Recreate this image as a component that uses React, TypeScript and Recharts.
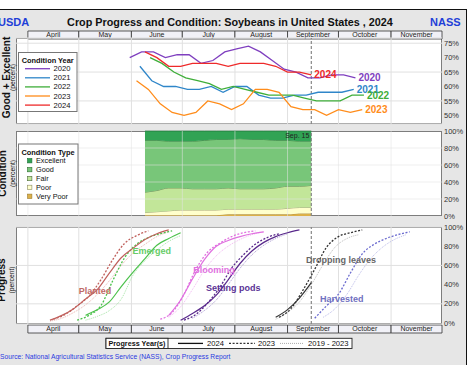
import React from 'react';
import {
  ComposedChart, LineChart, AreaChart, Line, Area, Scatter, XAxis, YAxis,
  CartesianGrid, ReferenceLine, ReferenceArea, ReferenceDot,
} from 'recharts';

const FONT = '"Liberation Sans", Arial, Helvetica, sans-serif';

// day of year on a 2024 calendar (Jan 1 = 0)
const MONTH_OFFSETS = [0, 31, 60, 91, 121, 152, 182, 213, 244, 274, 305, 335];
const doy = (md: string) => {
  const [m, d] = md.split('/').map(Number);
  return MONTH_OFFSETS[m - 1] + d - 1;
};

// ---------------- axis / calendar ----------------
const AXIS_START = '3/25';
const AXIS_END = '12/1';
const CURRENT_WEEK = '9/15';
const monthNames = ['April', 'May', 'June', 'July', 'August', 'September', 'October', 'November'];
const monthStartDates = ['4/1', '5/1', '6/1', '7/1', '8/1', '9/1', '10/1', '11/1'];
const monthEndDates = ['5/1', '6/1', '7/1', '8/1', '9/1', '10/1', '11/1', '12/1'];
const geTicks = [50, 55, 60, 65, 70, 75];
const pctTicks = [0, 20, 40, 60, 80, 100];

// ---------------- Good + Excellent by condition year ----------------
const ge2020Weeks = ['5/31', '6/7', '6/14', '6/21', '6/28', '7/5', '7/12', '7/19', '7/26', '8/2', '8/9', '8/16', '8/23', '8/30', '9/6', '9/13', '9/20', '9/27', '10/4', '10/11'];
const ge2020 = [70, 72, 72, 70, 71, 71, 68, 69, 72, 73, 74, 72, 69, 66, 65, 63, 63, 64, 64, 63];
const ge2021Weeks = ['6/6', '6/13', '6/20', '6/27', '7/4', '7/11', '7/18', '7/25', '8/1', '8/8', '8/15', '8/22', '8/29', '9/5', '9/12', '9/19', '9/26', '10/3', '10/10'];
const ge2021 = [67, 62, 60, 60, 59, 59, 60, 58, 60, 60, 57, 56, 56, 57, 57, 58, 58, 58, 59];
const ge2022Weeks = ['6/12', '6/19', '6/26', '7/3', '7/10', '7/17', '7/24', '7/31', '8/7', '8/14', '8/21', '8/28', '9/4', '9/11', '9/18', '9/25', '10/2', '10/9', '10/16'];
const ge2022 = [70, 68, 65, 63, 62, 61, 59, 60, 59, 58, 57, 57, 57, 56, 55, 55, 55, 57, 57];
const ge2023Weeks = ['6/4', '6/11', '6/18', '6/25', '7/2', '7/9', '7/16', '7/23', '7/30', '8/6', '8/13', '8/20', '8/27', '9/3', '9/10', '9/17', '9/24', '10/1', '10/8', '10/15'];
const ge2023 = [62, 59, 54, 51, 50, 51, 55, 54, 52, 54, 59, 59, 58, 53, 52, 52, 50, 52, 51, 52];
const ge2024Weeks = ['6/9', '6/16', '6/23', '6/30', '7/7', '7/14', '7/21', '7/28', '8/4', '8/11', '8/18', '8/25', '9/1', '9/8', '9/15'];
const ge2024 = [72, 70, 67, 67, 68, 68, 68, 67, 68, 68, 68, 67, 65, 65, 64];

// ---------------- 2024 condition breakdown ----------------
const condWeeks = ge2024Weeks;
const condVeryPoor = [1, 1, 1, 1, 1, 1, 1, 2, 2, 2, 2, 2, 2, 3, 3];
const condPoor = [3, 4, 5, 6, 6, 6, 6, 6, 6, 6, 6, 6, 7, 7, 7];
const condFair = [24, 25, 27, 26, 25, 25, 25, 25, 24, 24, 24, 25, 26, 25, 26];
const condGood = [61, 59, 55, 55, 56, 57, 58, 57, 59, 58, 58, 56, 54, 53, 52];
const condExcellent = [11, 11, 12, 12, 12, 11, 10, 10, 9, 10, 10, 11, 11, 12, 12];

// ---------------- progress ----------------
const planted24Weeks = ['4/14', '4/21', '4/28', '5/5', '5/12', '5/19', '5/26', '6/2', '6/9', '6/16', '6/23'];
const planted24 = [3, 8, 15, 25, 35, 52, 68, 78, 87, 93, 97];
const planted23Weeks = ['4/16', '4/23', '4/30', '5/7', '5/14', '5/21', '5/28', '6/4', '6/11'];
const planted23 = [4, 9, 18, 28, 45, 66, 83, 91, 96];
const plantedAvgWeeks = ['4/14', '4/21', '4/28', '5/5', '5/12', '5/19', '5/26', '6/2', '6/9', '6/16', '6/23'];
const plantedAvg = [2, 5, 11, 19, 30, 44, 60, 73, 82, 90, 95];

const emerged24Weeks = ['5/5', '5/12', '5/19', '5/26', '6/2', '6/9', '6/16', '6/23', '6/30'];
const emerged24 = [8, 14, 22, 38, 53, 67, 81, 88, 94];
const emerged23Weeks = ['4/30', '5/7', '5/14', '5/21', '5/28', '6/4', '6/11', '6/18', '6/25'];
const emerged23 = [3, 8, 18, 44, 68, 82, 89, 93, 96];
const emergedAvgWeeks = ['5/5', '5/12', '5/19', '5/26', '6/2', '6/9', '6/16', '6/23', '6/30'];
const emergedAvg = [3, 7, 13, 25, 50, 65, 76, 85, 91];

const bloom24Weeks = ['6/23', '6/30', '7/7', '7/14', '7/21', '7/28', '8/4', '8/11', '8/18'];
const bloom24 = [8, 24, 46, 66, 80, 86, 90, 93, 95];
const bloom23Weeks = ['6/18', '6/25', '7/2', '7/9', '7/16', '7/23', '7/30', '8/6', '8/13'];
const bloom23 = [4, 11, 30, 56, 74, 83, 90, 94, 96];
const bloomAvgWeeks = ['6/23', '6/30', '7/7', '7/14', '7/21', '7/28', '8/4', '8/11', '8/18'];
const bloomAvg = [6, 17, 35, 55, 70, 80, 87, 92, 95];

const pods24Weeks = ['6/30', '7/7', '7/14', '7/21', '7/28', '8/4', '8/11', '8/18', '8/25', '9/1', '9/8'];
const pods24 = [3, 10, 18, 29, 45, 62, 75, 84, 90, 94, 97];
const pods23Weeks = ['7/2', '7/9', '7/16', '7/23', '7/30', '8/6', '8/13', '8/20', '8/27'];
const pods23 = [3, 9, 21, 37, 57, 71, 82, 89, 93];
const podsAvgWeeks = ['7/7', '7/14', '7/21', '7/28', '8/4', '8/11', '8/18', '8/25', '9/1'];
const podsAvg = [5, 13, 24, 40, 57, 71, 81, 88, 93];

const leaves24Weeks = ['8/25', '9/1', '9/8', '9/15'];
const leaves24 = [6, 14, 26, 42];
const leaves23Weeks = ['8/27', '9/3', '9/10', '9/17', '9/24', '10/1', '10/8', '10/15'];
const leaves23 = [6, 15, 34, 56, 79, 90, 94, 97];
const leavesAvgWeeks = ['8/25', '9/1', '9/8', '9/15', '9/22', '9/29', '10/6', '10/13'];
const leavesAvg = [4, 11, 22, 40, 61, 79, 88, 92];

const harvest23Weeks = ['9/17', '9/24', '10/1', '10/8', '10/15', '10/22', '10/29', '11/5', '11/12'];
const harvest23 = [5, 18, 30, 52, 72, 82, 88, 92, 95];
const harvestAvgWeeks = ['9/22', '9/29', '10/6', '10/13', '10/20', '10/27', '11/3', '11/10'];
const harvestAvg = [6, 15, 30, 50, 67, 79, 87, 92];

// ---------------- derived tables ----------------
const pts = (weeks: string[], vals: number[]) => weeks.map((w, i) => ({ d: doy(w), v: vals[i] }));
const X_DOMAIN: [number, number] = [doy(AXIS_START), doy(AXIS_END)];
const SEP15 = doy(CURRENT_WEEK);
const monthLines = monthStartDates.map(doy);
const monthBands = monthNames.map((name, i) => ({
  name,
  d1: Math.max(doy(monthStartDates[i]), X_DOMAIN[0]),
  d2: Math.min(doy(monthEndDates[i]), X_DOMAIN[1]),
  row: 0.5,
}));

const condYears = [
  { year: '2020', color: '#7f3fbf', data: pts(ge2020Weeks, ge2020) },
  { year: '2021', color: '#2f86c9', data: pts(ge2021Weeks, ge2021) },
  { year: '2022', color: '#3fae3a', data: pts(ge2022Weeks, ge2022) },
  { year: '2023', color: '#ff8c1a', data: pts(ge2023Weeks, ge2023) },
  { year: '2024', color: '#ee2a2a', data: pts(ge2024Weeks, ge2024) },
];

const condRows = condWeeks.map((w, i) => ({
  d: doy(w), vp: condVeryPoor[i], p: condPoor[i], f: condFair[i], g: condGood[i], e: condExcellent[i],
}));
const condTypes = [
  { key: 'e', name: 'Excellent', fill: '#31a354', stroke: '#1f6e36' },
  { key: 'g', name: 'Good', fill: '#78c679', stroke: '#2f6e31' },
  { key: 'f', name: 'Fair', fill: '#c2e699', stroke: '#4d6b3a' },
  { key: 'p', name: 'Poor', fill: '#ffffcc', stroke: '#8a8a60' },
  { key: 'vp', name: 'Very Poor', fill: '#dcb048', stroke: '#9a7a30' },
];

const stages = [
  { name: 'Planted', color: '#c0605c', avg: '#eab3b0', label: '#c06a66', s24: pts(planted24Weeks, planted24), s23: pts(planted23Weeks, planted23), sAvg: pts(plantedAvgWeeks, plantedAvg) },
  { name: 'Emerged', color: '#4cc24c', avg: '#a9e6a9', label: '#66cc66', s24: pts(emerged24Weeks, emerged24), s23: pts(emerged23Weeks, emerged23), sAvg: pts(emergedAvgWeeks, emergedAvg) },
  { name: 'Blooming', color: '#e070e0', avg: '#f3b8f3', label: '#e070e0', s24: pts(bloom24Weeks, bloom24), s23: pts(bloom23Weeks, bloom23), sAvg: pts(bloomAvgWeeks, bloomAvg) },
  { name: 'Setting pods', color: '#5a2a8c', avg: '#aa9ad0', label: '#5b3396', s24: pts(pods24Weeks, pods24), s23: pts(pods23Weeks, pods23), sAvg: pts(podsAvgWeeks, podsAvg) },
  { name: 'Dropping leaves', color: '#333333', avg: '#bdbdbd', label: '#666666', s24: pts(leaves24Weeks, leaves24), s23: pts(leaves23Weeks, leaves23), sAvg: pts(leavesAvgWeeks, leavesAvg) },
  { name: 'Harvested', color: '#6b6bcf', avg: '#bcbcea', label: '#7070c0', s24: [] as { d: number; v: number }[], s23: pts(harvest23Weeks, harvest23), sAvg: pts(harvestAvgWeeks, harvestAvg) },
];

// label anchors (layout, in data units: day of year, percent)
const STAGE_LABEL_AT: Record<string, [number, number]> = {
  'Planted': [130.5, 34],
  'Emerged': [164, 75],
  'Blooming': [200.6, 55],
  'Setting pods': [212, 36.5],
  'Dropping leaves': [275.5, 65.5],
  'Harvested': [276, 25],
};

// ---------------- layout ----------------
const W = 474;
const PL = 16;
const AW = 32;
const GRID = '#e0e0e0';

const endLabel = (color: string, text: string, n: number) => (p: any) =>
  p.index === n - 1 ? (
    <text x={p.x + 3} y={p.y} dy={3.5} fill={color} fontSize={10} fontWeight="bold" fontFamily={FONT}>{text}</text>
  ) : <g />;

function MonthBand({ top }: { top: number }) {
  return (
    <div style={{ position: 'absolute', left: 0, top: top - 2 }}>
      <ComposedChart width={W} height={12} margin={{ top: 2, right: 0, bottom: 2, left: PL }} data={monthBands}>
        <XAxis type="number" dataKey="d1" domain={X_DOMAIN} hide allowDataOverflow />
        <YAxis type="number" dataKey="row" domain={[0, 1]} orientation="right" width={AW} tick={false} axisLine={false} tickLine={false} />
        {monthBands.map((m) => (
          <ReferenceArea key={m.name} x1={m.d1} x2={m.d2} y1={0} y2={1} fill="#f1f1f7" fillOpacity={1}
            stroke="#333" strokeWidth={0.8} ifOverflow="visible"
            label={{ value: m.name, position: 'center', fontSize: 7, fill: '#222', fontFamily: FONT, dy: -0.5 }} />
        ))}
        <Scatter dataKey="row" fill="none" shape={() => <g />} isAnimationActive={false} />
      </ComposedChart>
    </div>
  );
}

const plotBox = (top: number, height: number) => (
  <div style={{ position: 'absolute', left: PL, top, width: W - PL - AW, height, background: '#fff', border: '1px solid #7d7d7d', boxSizing: 'border-box' }} />
);

const yTick = { fontSize: 7.5, fill: '#333', fontFamily: FONT };

export default function App() {
  return (
    <div style={{ position: 'absolute', left: 0, top: 0, width: W, height: 365, background: '#fff', fontFamily: FONT, overflow: 'hidden' }}>
      <div style={{ position: 'absolute', left: 0, top: 9, width: 467, height: 360, background: '#e6e6e6', borderTop: '1.5px solid #111', borderRight: '1.5px solid #111', boxSizing: 'border-box' }} />

      {plotBox(38, 86)}
      {plotBox(131, 85)}
      {plotBox(227, 97)}

      <MonthBand top={31} />
      <MonthBand top={325} />

      {/* Good + Excellent */}
      <div style={{ position: 'absolute', left: 0, top: 32 }}>
        <LineChart width={W} height={98} margin={{ top: 6, right: 0, bottom: 6, left: PL }}>
          <XAxis type="number" dataKey="d" domain={X_DOMAIN} hide allowDataOverflow />
          <YAxis type="number" orientation="right" domain={[47, 76.8]} ticks={geTicks} width={AW}
            tickFormatter={(v) => `${v}%`} axisLine={false} tickLine={false} tickSize={0} tickMargin={2} tick={yTick} allowDataOverflow />
          <CartesianGrid vertical={false} stroke={GRID} />
          {monthLines.map((d) => <ReferenceLine key={d} x={d} stroke={GRID} />)}
          <ReferenceLine x={SEP15} stroke="#888" strokeDasharray="3 2" strokeWidth={1.2} />
          {condYears.map((s) => (
            <Line key={s.year} data={s.data} dataKey="v" type="linear" stroke={s.color} strokeWidth={1.3}
              dot={false} isAnimationActive={false} label={endLabel(s.color, s.year, s.data.length)} />
          ))}
        </LineChart>
      </div>

      {/* Condition */}
      <div style={{ position: 'absolute', left: 0, top: 125 }}>
        <AreaChart width={W} height={97} data={condRows} margin={{ top: 6, right: 0, bottom: 6, left: PL }}>
          <XAxis type="number" dataKey="d" domain={X_DOMAIN} hide allowDataOverflow />
          <YAxis type="number" orientation="right" domain={[0, 100]} ticks={pctTicks} width={AW}
            tickFormatter={(v) => `${v}%`} axisLine={false} tickLine={false} tickSize={0} tickMargin={2} tick={yTick} />
          {[...condTypes].reverse().map((c) => (
            <Area key={c.key} dataKey={c.key} stackId="1" type="monotone" fill={c.fill} fillOpacity={1}
              stroke={c.stroke} strokeWidth={0.7} isAnimationActive={false} />
          ))}
          {pctTicks.slice(1, -1).map((t) => <ReferenceLine key={t} y={t} stroke="#e4e4e4" strokeOpacity={0.55} />)}
          {monthLines.map((d) => <ReferenceLine key={d} x={d} stroke="#e4e4e4" strokeOpacity={0.55} />)}
          <ReferenceLine x={SEP15} stroke="#888" strokeDasharray="3 2" strokeWidth={1.2}
            label={{ value: 'Sep. 15', position: 'insideTopRight', fontSize: 7, fill: '#222', offset: 2, fontFamily: FONT }} />
        </AreaChart>
      </div>

      {/* Progress */}
      <div style={{ position: 'absolute', left: 0, top: 221 }}>
        <LineChart width={W} height={109} margin={{ top: 6, right: 0, bottom: 6, left: PL }}>
          <XAxis type="number" dataKey="d" domain={X_DOMAIN} hide allowDataOverflow />
          <YAxis type="number" orientation="right" domain={[-1, 100]} ticks={pctTicks} width={AW}
            tickFormatter={(v) => `${v}%`} axisLine={false} tickLine={false} tickSize={0} tickMargin={2} tick={yTick} allowDataOverflow />
          <CartesianGrid vertical={false} stroke={GRID} />
          {monthLines.map((d) => <ReferenceLine key={d} x={d} stroke={GRID} />)}
          <ReferenceLine x={SEP15} stroke="#888" strokeDasharray="3 2" strokeWidth={1.2} />
          {stages.map((s) => (
            <Line key={s.name + 'avg'} data={s.sAvg} dataKey="v" type="monotone" stroke={s.avg} strokeWidth={1}
              strokeDasharray="1 1" dot={false} isAnimationActive={false} />
          ))}
          {stages.map((s) => (
            <Line key={s.name + '23'} data={s.s23} dataKey="v" type="monotone" stroke={s.color} strokeWidth={1.3}
              strokeDasharray="2 1.6" dot={false} isAnimationActive={false} />
          ))}
          {stages.filter((s) => s.s24.length > 0).map((s) => (
            <Line key={s.name + '24'} data={s.s24} dataKey="v" type="monotone" stroke={s.color} strokeWidth={1.2}
              dot={false} isAnimationActive={false} />
          ))}
          {stages.map((s) => (
            <ReferenceDot key={s.name + 'lbl'} x={STAGE_LABEL_AT[s.name][0]} y={STAGE_LABEL_AT[s.name][1]} r={0}
              fill="none" stroke="none"
              label={{ value: s.name, position: 'center', fill: s.label, fontSize: 9, fontWeight: 'bold', fontFamily: FONT }} />
          ))}
        </LineChart>
      </div>

      {/* static texts */}
      <svg width={W} height={365} style={{ position: 'absolute', left: 0, top: 0, pointerEvents: 'none' }} fontFamily={FONT}>
        <text x={-2} y={21.5} dominantBaseline="central" fill="#1f3fd8" fontSize={11} fontWeight="bold">USDA</text>
        <text x={230} y={21.5} dominantBaseline="central" textAnchor="middle" fill="#111" fontSize={10.8} fontWeight="bold">
          Crop Progress and Condition: Soybeans in United States , 2024
        </text>
        <text x={430} y={21.5} dominantBaseline="central" fill="#1f3fd8" fontSize={11} fontWeight="bold">NASS</text>

        <text transform="translate(9.5,77.5) rotate(-90)" textAnchor="middle" fontSize={10} fontWeight="bold" fill="#111">Good + Excellent</text>
        <text transform="translate(14.8,77.5) rotate(-90)" textAnchor="middle" fontSize={6.8} fill="#111">(percent)</text>
        <text transform="translate(5.5,173.5) rotate(-90)" textAnchor="middle" fontSize={10} fontWeight="bold" fill="#111">Condition</text>
        <text transform="translate(14.5,173.5) rotate(-90)" textAnchor="middle" fontSize={6.8} fill="#111">(percent)</text>
        <text transform="translate(5,280) rotate(-90)" textAnchor="middle" fontSize={10} fontWeight="bold" fill="#111">Progress</text>
        <text transform="translate(13.8,280) rotate(-90)" textAnchor="middle" fontSize={6.8} fill="#111">(percent)</text>

        {/* Condition Year legend */}
        <rect x={18.5} y={52.5} width={58.5} height={59} fill="#fff" stroke="#777" />
        <text x={47.7} y={60} textAnchor="middle" dominantBaseline="central" fontSize={7.4} fontWeight="bold" fill="#111">Condition Year</text>
        {condYears.map((s, i) => (
          <g key={s.year}>
            <line x1={25} x2={50} y1={68.7 + i * 9.1} y2={68.7 + i * 9.1} stroke={s.color} strokeWidth={1.3} />
            <text x={53.5} y={68.7 + i * 9.1} dominantBaseline="central" fontSize={7.6} fill="#111">{s.year}</text>
          </g>
        ))}

        {/* Condition Type legend */}
        <rect x={18.5} y={144} width={59.5} height={60} fill="#fff" stroke="#777" />
        <text x={48} y={152.4} textAnchor="middle" dominantBaseline="central" fontSize={7.4} fontWeight="bold" fill="#111">Condition Type</text>
        {condTypes.map((c, i) => (
          <g key={c.key}>
            <rect x={27.5} y={158.5 + i * 8.9} width={4.4} height={4.4} fill={c.fill} stroke={c.stroke} strokeWidth={0.6} />
            <text x={36} y={160.7 + i * 8.9} dominantBaseline="central" fontSize={7.3} fill="#111">{c.name}</text>
          </g>
        ))}

        {/* Progress years legend */}
        <rect x={106} y={338.3} width={246} height={10.2} fill="#fff" stroke="#222" strokeWidth={0.9} />
        <rect x={106} y={338.3} width={62} height={10.2} fill="#fff" stroke="#222" strokeWidth={0.9} />
        <text x={137} y={343.4} textAnchor="middle" dominantBaseline="central" fontSize={7.2} fontWeight="bold" fill="#111">Progress Year(s)</text>
        <line x1={178} x2={203} y1={343.4} y2={343.4} stroke="#111" strokeWidth={1.3} />
        <text x={207} y={343.4} dominantBaseline="central" fontSize={7.6} fill="#111">2024</text>
        <line x1={229} x2={255} y1={343.4} y2={343.4} stroke="#333" strokeWidth={1.3} strokeDasharray="2 1.6" />
        <text x={258} y={343.4} dominantBaseline="central" fontSize={7.6} fill="#111">2023</text>
        <line x1={280} x2={303} y1={343.4} y2={343.4} stroke="#aaa" strokeWidth={1} strokeDasharray="1 1" />
        <text x={308} y={343.4} dominantBaseline="central" fontSize={7.6} fill="#111">2019 - 2023</text>

        <text x={0} y={356.5} dominantBaseline="central" fontSize={6.7} fill="#2a3ae0">
          Source: National Agricultural Statistics Service (NASS), Crop Progress Report
        </text>
      </svg>
    </div>
  );
}
